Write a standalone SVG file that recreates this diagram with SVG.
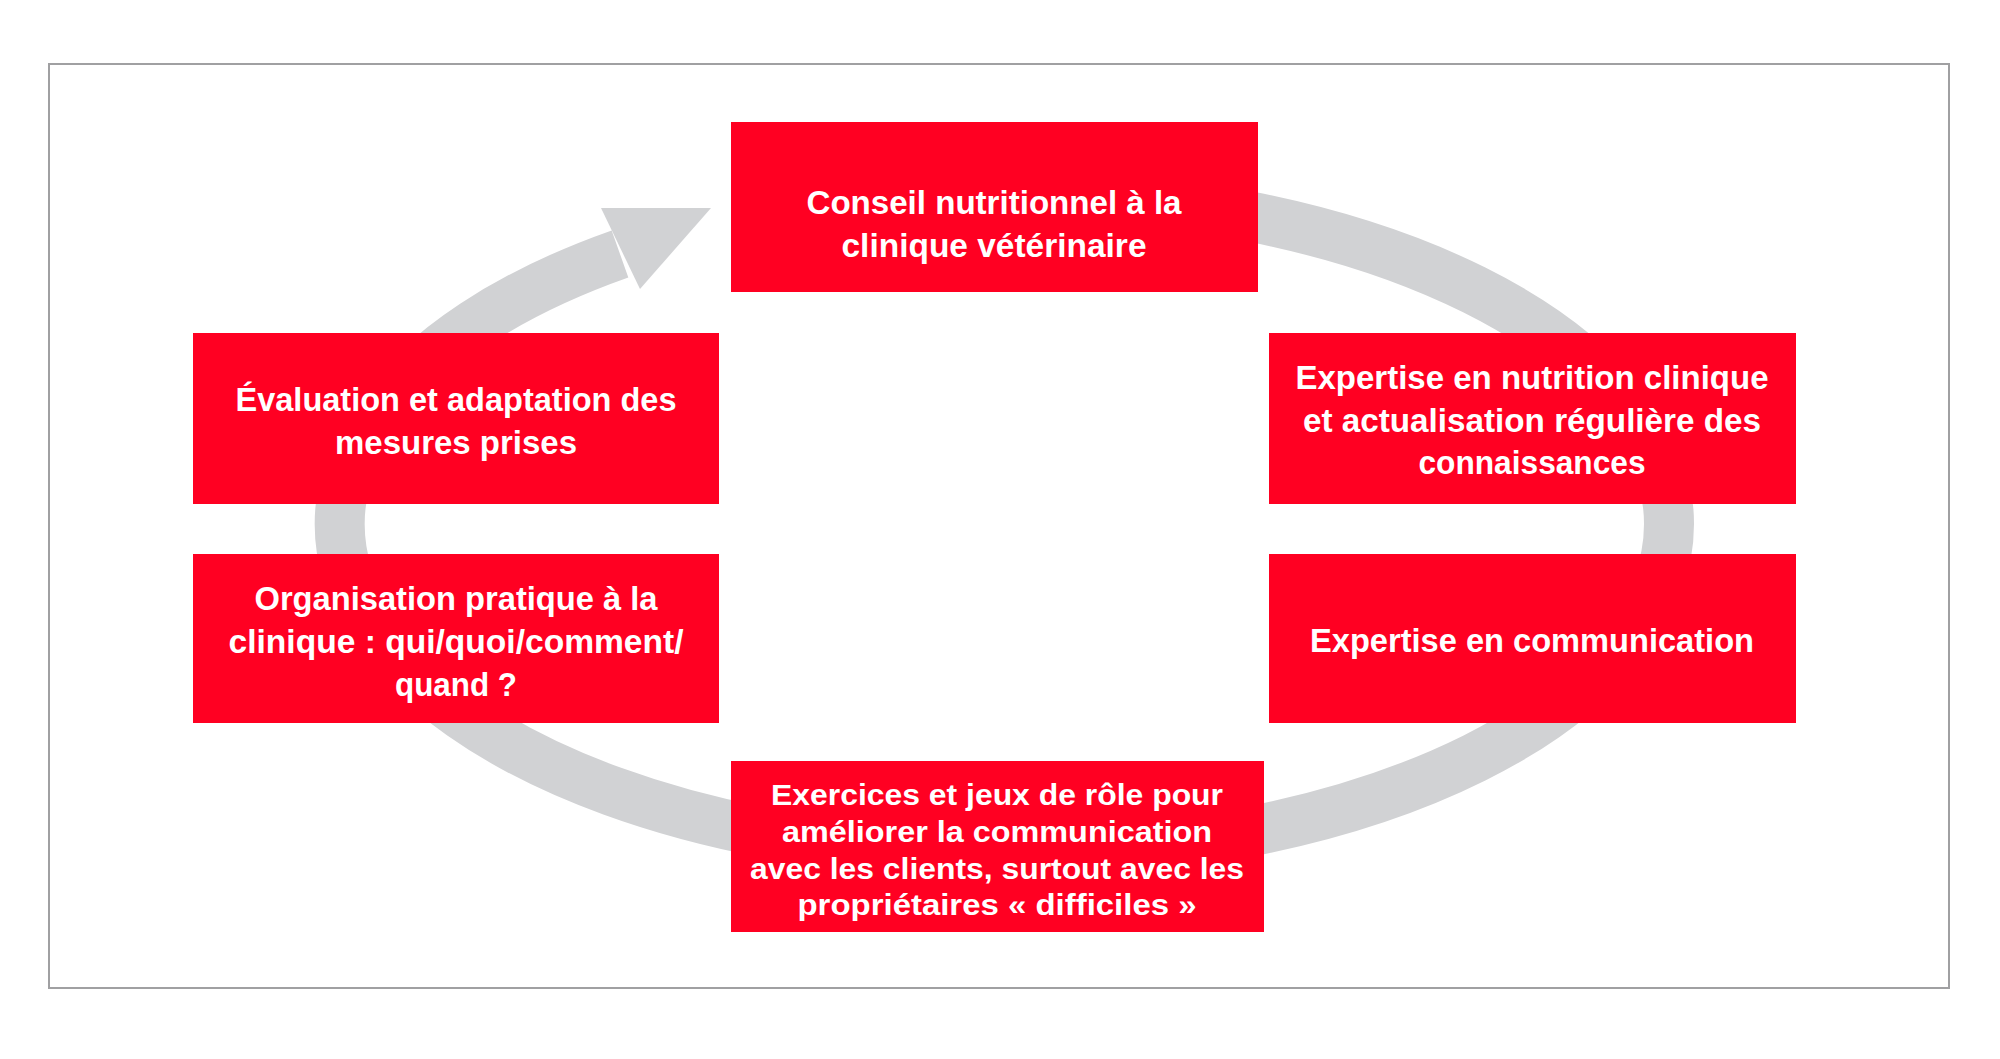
<svg xmlns="http://www.w3.org/2000/svg" width="2000" height="1059" viewBox="0 0 2000 1059">
<style>
.box{fill:#FF0022}
text{font-family:"Liberation Sans",Arial,sans-serif;font-weight:bold;fill:#fff;text-anchor:middle;font-size:33px}
.s{font-size:30px}
</style>
<rect width="2000" height="1059" fill="#fff"/>
<rect x="49" y="64" width="1900" height="924" fill="#fff" stroke="#A0A0A2" stroke-width="2"/>
<g id="connectors">
<path d="M1004 193 A665 331 0 0 1 1004 855 A665 331 0 0 1 620 254" fill="none" stroke="#D1D2D4" stroke-width="50"/>
<polygon points="601,208 711,208 640,289" fill="#D1D2D4"/>
</g>
<g id="n1"><rect class="box" x="731" y="122" width="527" height="170"/>
<text x="994" y="214" textLength="375" lengthAdjust="spacingAndGlyphs">Conseil nutritionnel à la</text>
<text x="994" y="257" textLength="305" lengthAdjust="spacingAndGlyphs">clinique vétérinaire</text></g>
<g id="n2"><rect class="box" x="1269" y="333" width="527" height="171"/>
<text x="1532" y="389" textLength="473" lengthAdjust="spacingAndGlyphs">Expertise en nutrition clinique</text>
<text x="1532" y="432" textLength="458" lengthAdjust="spacingAndGlyphs">et actualisation régulière des</text>
<text x="1532" y="474" textLength="227" lengthAdjust="spacingAndGlyphs">connaissances</text></g>
<g id="n3"><rect class="box" x="1269" y="554" width="527" height="169"/>
<text x="1532" y="652" textLength="444" lengthAdjust="spacingAndGlyphs">Expertise en communication</text></g>
<g id="n4"><rect class="box" x="731" y="761" width="533" height="171"/>
<text class="s" x="997" y="805" textLength="452" lengthAdjust="spacingAndGlyphs">Exercices et jeux de rôle pour</text>
<text class="s" x="997" y="842" textLength="430" lengthAdjust="spacingAndGlyphs">améliorer la communication</text>
<text class="s" x="997" y="879" textLength="494" lengthAdjust="spacingAndGlyphs">avec les clients, surtout avec les</text>
<text class="s" x="997" y="915" textLength="399" lengthAdjust="spacingAndGlyphs">propriétaires « difficiles »</text></g>
<g id="n5"><rect class="box" x="193" y="554" width="526" height="169"/>
<text x="456" y="610" textLength="403" lengthAdjust="spacingAndGlyphs">Organisation pratique à la</text>
<text x="456" y="653" textLength="455" lengthAdjust="spacingAndGlyphs">clinique : qui/quoi/comment/</text>
<text x="456" y="696" textLength="122" lengthAdjust="spacingAndGlyphs">quand ?</text></g>
<g id="n6"><rect class="box" x="193" y="333" width="526" height="171"/>
<text x="456" y="411" textLength="441" lengthAdjust="spacingAndGlyphs">Évaluation et adaptation des</text>
<text x="456" y="454" textLength="242" lengthAdjust="spacingAndGlyphs">mesures prises</text></g>
</svg>
